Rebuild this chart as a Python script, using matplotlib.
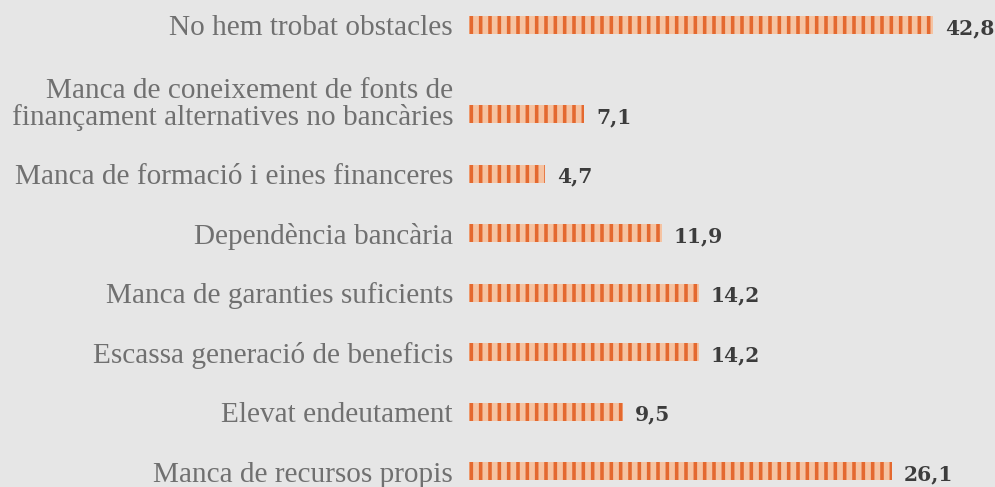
import matplotlib
matplotlib.use('Agg')
import matplotlib.pyplot as plt


labels = [
    'No hem trobat obstacles',
    'Manca de coneixement de fonts de\nfinançament alternatives no bancàries',
    'Manca de formació i eines financeres',
    'Dependència bancària',
    'Manca de garanties suficients',
    'Escassa generació de beneficis',
    'Elevat endeutament',
    'Manca de recursos propis',
]
values = [42.8, 7.1, 4.7, 11.9, 14.2, 14.2, 9.5, 26.1]
value_labels = ['42,8', '7,1', '4,7', '11,9', '14,2', '14,2', '9,5', '26,1']

bg = '#e6e6e6'
light = '#f5c3a2'
dark = '#e4692f'
dpi = 112
x_max = 28.64  # longest bar is cut at the edge of the plot

plt.rcParams['hatch.linewidth'] = 2.3


def row_positions(names):
    # a two-line label takes an extra half row above its bar
    pos = []
    y = 0.0
    for i, name in enumerate(names):
        if i > 0:
            y += 1 + 0.5 * name.count('\n')
        pos.append(y)
    return pos


ys = row_positions(labels)

fig = plt.figure(figsize=(995 / dpi, 487 / dpi), dpi=dpi, facecolor=bg)
ax = fig.add_axes([469 / 995, 0, 464 / 995, 1])
ax.set_facecolor(bg)

ax.barh(ys, values, height=0.308, left=0, color=light, edgecolor=dark,
        linewidth=0, hatch='||')

ax.set_xlim(0, x_max)
ax.set_ylim(7.765, -0.42)
ax.axis('off')

for y, name in zip(ys, labels):
    lines = name.split('\n')
    for k, line in enumerate(reversed(lines)):
        ax.annotate(line, xy=(0, y), xycoords=('axes fraction', 'data'),
                    xytext=(-16, -10.5 + 26.5 * k), textcoords='offset pixels',
                    ha='right', va='baseline', fontsize=18.8,
                    family='Liberation Serif', color='#707070',
                    annotation_clip=False)

for y, v, txt in zip(ys, values, value_labels):
    ax.annotate(txt, xy=(min(v, x_max), y), xytext=(12, -9),
                textcoords='offset pixels', ha='left', va='baseline',
                fontsize=13, family='DejaVu Serif', fontweight='bold',
                color='#3c3c3c', annotation_clip=False)

fig.savefig('out.png', dpi=dpi, facecolor=bg)
